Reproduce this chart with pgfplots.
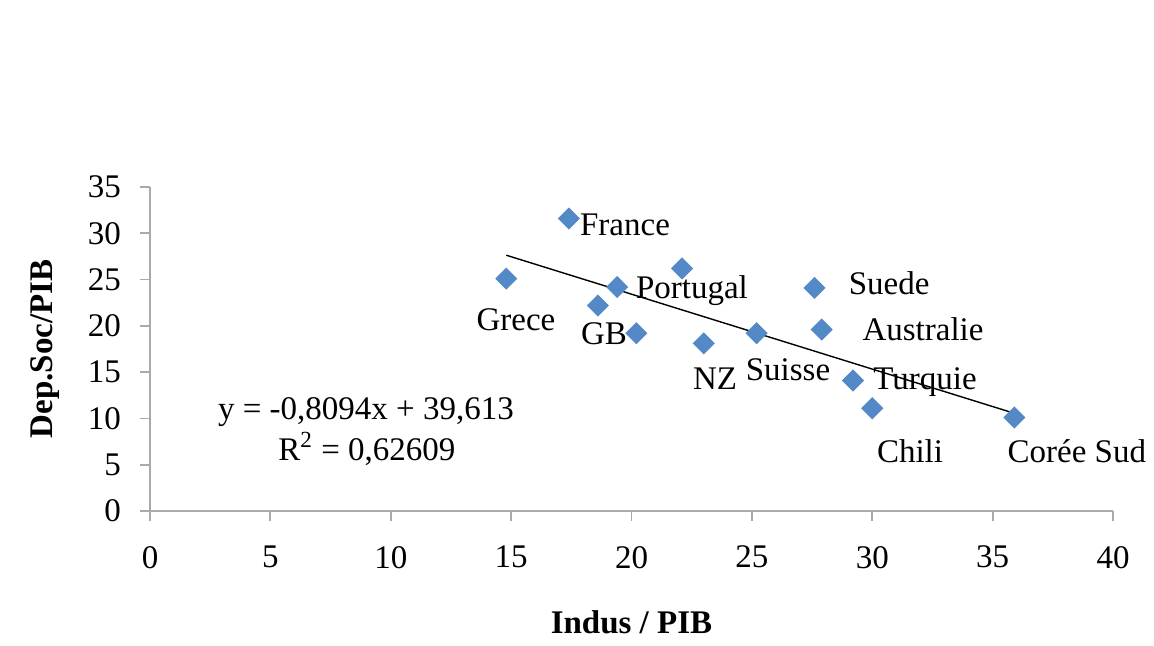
\documentclass[border=0pt]{standalone}
\usepackage{fontspec}
\setmainfont{Liberation Serif}
\usepackage{pgfplots}
\pgfplotsset{compat=1.18}
\definecolor{pt}{RGB}{84,137,199}
\definecolor{ax}{RGB}{170,170,170}
\newcommand{\fs}{\fontsize{16.5}{19}\selectfont}
\begin{document}
\begin{tikzpicture}
\path[use as bounding box] (0,0) rectangle (577pt,323pt);
\begin{axis}[
  at={(75pt,67.5pt)}, anchor=south west,
  scale only axis, width=481.5pt, height=162pt,
  xmin=0, xmax=40, ymin=0, ymax=35,
  axis x line*=bottom, axis y line*=left,
  axis line style={ax, line width=0.9pt, -},
  xtick={0,5,...,40}, ytick={0,5,...,35},
  tick style={ax, line width=0.9pt},
  tick align=outside, major tick length=5pt,
  ticklabel style={font=\fs},
  /pgf/number format/assume math mode=true,
  xticklabel style={anchor=north, yshift=-9pt},
  yticklabel style={anchor=east, xshift=-6pt},
  xlabel={\textbf{Indus / PIB}}, ylabel={\textbf{Dep.Soc/PIB}},
  label style={font=\fs},
  xlabel style={at={(axis description cs:0.5,-0.3426)}, anchor=center},
  ylabel style={at={(axis description cs:-0.109,0.5)}, anchor=center},
  clip=false,
]
\addplot[only marks, mark=square*, mark size=3.7pt, mark options={rotate=45, fill=pt, draw=pt}]
coordinates {
  (14.8,25.1) (17.4,31.6) (19.4,24.2) (18.6,22.2) (20.2,19.2) (22.1,26.2)
  (23.0,18.1) (25.2,19.2) (27.6,24.1) (27.9,19.6) (29.2,14.1) (30.0,11.1) (35.9,10.1)
};
\addplot[black, line width=0.7pt] coordinates {(14.8,27.63) (35.9,10.555)};
\begin{scope}[every node/.style={font=\fs, anchor=center}]
\node at (axis cs:15.20,20.7) {Grece};
\node at (axis cs:19.73,30.9) {France};
\node at (axis cs:22.51,23.8) {Portugal};
\node at (axis cs:18.86,19.2) {GB};
\node at (axis cs:23.47,14.3) {NZ};
\node at (axis cs:26.50,15.3) {Suisse};
\node at (axis cs:30.70,24.6) {Suede};
\node at (axis cs:32.11,19.6) {Australie};
\node at (axis cs:32.19,13.9) {Turquie};
\node at (axis cs:31.57,6.5) {Chili};
\node at (axis cs:38.50,6.5) {Corée Sud};
\node at (axis cs:8.97,10.7) {y = -0,8094x + 39,613};
\node at (axis cs:9.01,6.7) {R\textsuperscript{2} = 0,62609};
\end{scope}
\end{axis}
\end{tikzpicture}
\end{document}
